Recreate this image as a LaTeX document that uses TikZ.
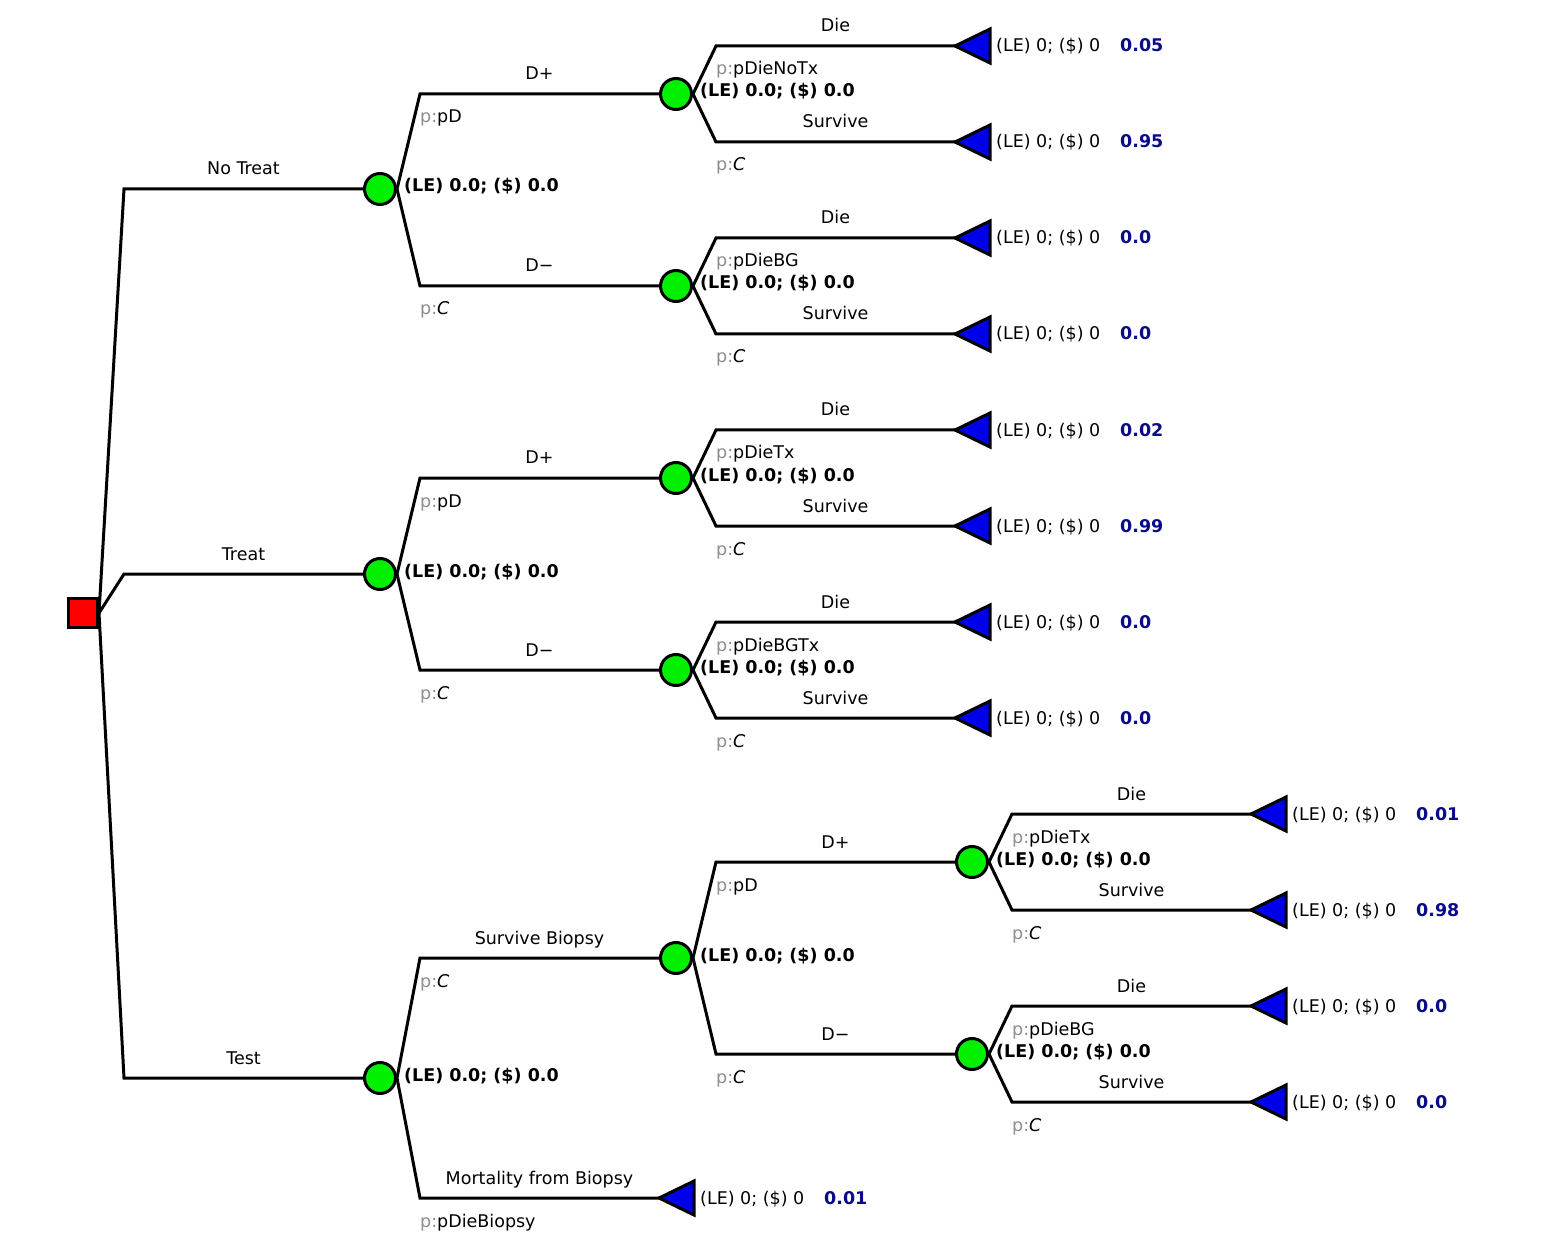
\documentclass[tikz,border=0pt]{standalone}
\usepackage{fontspec}
\setmainfont{DejaVu Sans}
\definecolor{nodegreen}{RGB}{0,240,0}
\definecolor{termblue}{RGB}{0,0,235}
\definecolor{probblue}{RGB}{10,10,140}
\definecolor{pgray}{RGB}{140,140,140}
\newcommand\fs{\fontsize{17.5}{20}\selectfont}
\tikzset{
 edge/.style={line width=3pt, black, line join=miter},
 decision/.style={rectangle, draw, line width=3pt, fill=red, minimum size=29pt, inner sep=0},
 chance/.style={circle, draw, line width=3pt, fill=nodegreen, minimum size=31pt, inner sep=0},
 term/.style={draw, line width=3pt, fill=termblue, line join=miter},
 blab/.style={font=\fs, anchor=base, inner sep=0, yshift=14pt},
 plab/.style={font=\fs, anchor=base west, inner sep=0},
 vlab/.style={font=\fs\bfseries, anchor=base west, inner sep=0},
 tlab/.style={font=\fs, anchor=base west, inner sep=0},
 prob/.style={font=\fs\bfseries, text=probblue, anchor=base west, inner sep=0},
}
\newcommand\termnode[4]{%
 \coordinate (#1) at (#2,#3);
 \draw[term] (#1) -- ++(35,-17) -- ++(0,34) -- cycle;
 \node[tlab] (#1-v) at ([shift={(41,6)}]#1) {(LE) 0; (\$) 0};
 \node[prob] (#1-p) at ([shift={(165,6)}]#1) {#4};
}
\newcommand\branch[7]{%
 \coordinate (#2) at (#3,#4);
 \draw[edge] (#1.east) -- (#2) -- node[blab]{#6} (#5);
 \node[plab] (#2-p) at ([yshift=-29pt]#2) {\textcolor{pgray}{p:}#7};
}
\newcommand\valnode[1]{\node[vlab] (#1-v) at ([shift={(7,3)}]#1.east) {(LE) 0.0; (\$) 0.0};}
\newcommand\C{\textit{C}}
\begin{document}
\begin{tikzpicture}[x=1pt,y=-1pt]
\useasboundingbox (0,0) rectangle (1564,1246);
% nodes
\node[decision] (root) at (83,613) {};
\node[chance] (n1) at (380,189) {};
\node[chance] (n2) at (380,574) {};
\node[chance] (n3) at (380,1078) {};
\node[chance] (n11) at (676,94) {};
\node[chance] (n12) at (676,286) {};
\node[chance] (n21) at (676,478) {};
\node[chance] (n22) at (676,670) {};
\node[chance] (n31) at (676,958) {};
\node[chance] (n311) at (972,862) {};
\node[chance] (n312) at (972,1054) {};
% terminals
\termnode{t111}{955}{46}{0.05}
\termnode{t112}{955}{142}{0.95}
\termnode{t121}{955}{238}{0.0}
\termnode{t122}{955}{334}{0.0}
\termnode{t211}{955}{430}{0.02}
\termnode{t212}{955}{526}{0.99}
\termnode{t221}{955}{622}{0.0}
\termnode{t222}{955}{718}{0.0}
\termnode{t3111}{1251}{814}{0.01}
\termnode{t3112}{1251}{910}{0.98}
\termnode{t3121}{1251}{1006}{0.0}
\termnode{t3122}{1251}{1102}{0.0}
\termnode{t32}{659}{1198}{0.01}
% root branches
\coordinate (a1) at (124,189);
\coordinate (a2) at (124,574);
\coordinate (a3) at (124,1078);
\draw[edge] (root.east) -- (a1) -- node[blab]{No Treat} (n1);
\draw[edge] (root.east) -- (a2) -- node[blab]{Treat} (n2);
\draw[edge] (root.east) -- (a3) -- node[blab]{Test} (n3);
% level 1
\branch{n1}{b11}{420}{94}{n11}{D+}{pD}
\branch{n1}{b12}{420}{286}{n12}{D\textminus}{\C}
\branch{n2}{b21}{420}{478}{n21}{D+}{pD}
\branch{n2}{b22}{420}{670}{n22}{D\textminus}{\C}
\branch{n3}{b31}{420}{958}{n31}{Survive Biopsy}{\C}
\branch{n3}{b32}{420}{1198}{t32}{Mortality from Biopsy}{pDieBiopsy}
% level 2
\branch{n11}{c111}{716}{46}{t111}{Die}{pDieNoTx}
\branch{n11}{c112}{716}{142}{t112}{Survive}{\C}
\branch{n12}{c121}{716}{238}{t121}{Die}{pDieBG}
\branch{n12}{c122}{716}{334}{t122}{Survive}{\C}
\branch{n21}{c211}{716}{430}{t211}{Die}{pDieTx}
\branch{n21}{c212}{716}{526}{t212}{Survive}{\C}
\branch{n22}{c221}{716}{622}{t221}{Die}{pDieBGTx}
\branch{n22}{c222}{716}{718}{t222}{Survive}{\C}
\branch{n31}{c311}{716}{862}{n311}{D+}{pD}
\branch{n31}{c312}{716}{1054}{n312}{D\textminus}{\C}
% level 3
\branch{n311}{d3111}{1012}{814}{t3111}{Die}{pDieTx}
\branch{n311}{d3112}{1012}{910}{t3112}{Survive}{\C}
\branch{n312}{d3121}{1012}{1006}{t3121}{Die}{pDieBG}
\branch{n312}{d3122}{1012}{1102}{t3122}{Survive}{\C}
% values
\valnode{n1}\valnode{n2}\valnode{n3}
\valnode{n11}\valnode{n12}\valnode{n21}\valnode{n22}\valnode{n31}
\valnode{n311}\valnode{n312}
\end{tikzpicture}
\end{document}
